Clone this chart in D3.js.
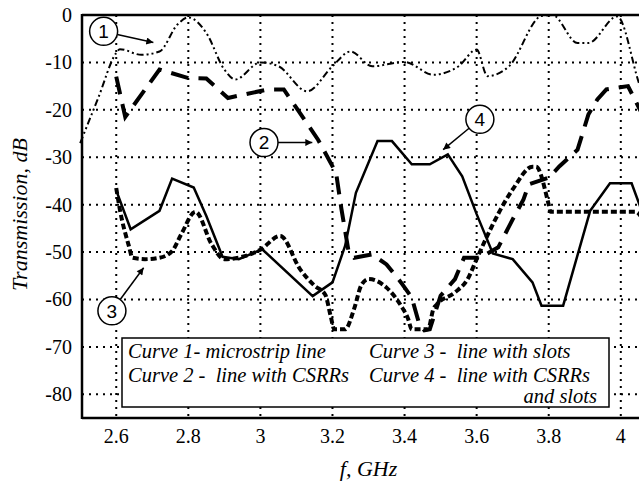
<!DOCTYPE html>
<html>
<head>
<meta charset="utf-8">
<script src="https://cdn.jsdelivr.net/npm/d3@7"></script>
<style>
  body { margin: 0; background: #fff; }
  svg { display: block; }
  text { font-family: "Liberation Serif", "Times New Roman", serif; fill: #000; }
</style>
</head>
<body>
<div id="chart"></div>
<script>
// Tick values
var xTicks = [2.6, 2.8, 3.0, 3.2, 3.4, 3.6, 3.8, 4.0];
var yTicks = [0, -10, -20, -30, -40, -50, -60, -70, -80];

// Curve 1 - microstrip line  [f GHz, dB]
var curve1 = [[2.50,-27],[2.55,-17.5],[2.60,-8],[2.61,-7.2],[2.67,-8.4],[2.72,-7.7],[2.77,-2],
  [2.80,-0.5],[2.85,-3.8],[2.90,-11.5],[2.93,-13.6],[3.00,-10],[3.05,-10.8],[3.13,-16.1],
  [3.20,-10.8],[3.25,-7.7],[3.31,-10.8],[3.40,-9.9],[3.48,-12.6],[3.55,-10.8],[3.60,-7.3],
  [3.63,-12.9],[3.69,-10.8],[3.78,-0.2],[3.81,0],[3.88,-5.9],[3.91,-5.9],[3.99,-0.3],
  [4.05,-14.3],[4.10,-26]];

// Curve 2 - line with CSRRs
var curve2 = [[2.60,-13],[2.625,-21.5],[2.72,-11.5],[2.80,-13.3],[2.85,-13.4],[2.91,-17.5],
  [3.02,-15.7],[3.065,-15.7],[3.10,-19.6],[3.16,-26.3],[3.21,-33.3],[3.225,-41],[3.245,-50],
  [3.26,-51.2],[3.31,-50.5],[3.35,-52.6],[3.39,-56.4],[3.42,-59.6],[3.44,-65],[3.455,-66.5],
  [3.47,-66.3],[3.50,-59.2],[3.54,-55.7],[3.565,-51.2],[3.61,-51.2],[3.66,-49],[3.70,-43.1],
  [3.73,-38.9],[3.745,-35.7],[3.80,-34.3],[3.83,-31.9],[3.88,-28.4],[3.91,-21],[3.935,-17.8],
  [3.96,-15.7],[4.02,-15],[4.10,-27]];

// Curve 3 - line with slots
var curve3 = [[2.60,-36.5],[2.61,-41],[2.635,-48.7],[2.645,-51.2],[2.68,-51.5],[2.72,-51.2],
  [2.755,-49.8],[2.78,-46.3],[2.82,-41.5],[2.865,-48.4],[2.90,-51.5],[2.95,-51],[3.00,-49.5],
  [3.055,-46.6],[3.11,-53.6],[3.15,-57.1],[3.18,-59],[3.195,-63.5],[3.205,-66.3],[3.235,-66.3],
  [3.26,-62],[3.28,-57],[3.30,-55.7],[3.35,-57.5],[3.39,-61.3],[3.41,-64.1],[3.42,-66.3],
  [3.465,-66.3],[3.48,-62],[3.49,-61],[3.54,-58.5],[3.575,-55.7],[3.60,-51.5],[3.625,-47.3],
  [3.70,-36.8],[3.755,-32],[3.765,-32],[3.80,-40],[3.805,-41.5],[4.04,-41.5],[4.10,-52]];

// Curve 4 - line with CSRRs and slots
var curve4 = [[2.60,-37],[2.64,-45.2],[2.72,-41.3],[2.755,-34.5],[2.815,-36.4],[2.85,-42.4],
  [2.895,-51],[2.94,-51.5],[3.005,-49.4],[3.145,-59.3],[3.20,-56.4],[3.235,-48.7],[3.265,-37.5],
  [3.325,-26.6],[3.365,-26.6],[3.42,-31.5],[3.47,-31.5],[3.52,-29.4],[3.56,-34],[3.60,-42],
  [3.645,-50.3],[3.70,-51.5],[3.755,-56.4],[3.78,-61.3],[3.84,-61.3],[3.915,-41.3],
  [3.97,-35.5],[4.03,-35.5],[4.10,-50]];

// Numbered markers: label, circle centre, arrow tip  (data units)
var markers = [
  {label: '1', at: [2.565, -3.45], tip: [2.703, -5.8]},
  {label: '2', at: [3.01, -26.9], tip: [3.144, -26.9]},
  {label: '3', at: [2.588, -62.4], tip: [2.676, -53.3]},
  {label: '4', at: [3.609, -22.0], tip: [3.507, -28.4]}
];

var legendLeft = ['Curve 1- microstrip line', 'Curve 2 -  line with CSRRs'];
var legendRight = ['Curve 3 -  line with slots', 'Curve 4 -  line with CSRRs', 'and slots'];

var W = 639, H = 481;
var plotLeft = 82, plotTop = 15, plotBottom = 418;

var svg = d3.select('#chart').append('svg')
    .attr('width', W).attr('height', H);

var x = d3.scaleLinear().domain([2.505, 4.1]).range([plotLeft, plotLeft + 1.595 * 360.4]);
var y = d3.scaleLinear().domain([-85, 0]).range([plotBottom, plotTop]);

svg.append('defs').append('marker')
    .attr('id', 'arrow')
    .attr('viewBox', '0 0 10 10')
    .attr('refX', 10).attr('refY', 5)
    .attr('markerWidth', 11).attr('markerHeight', 7)
    .attr('markerUnits', 'userSpaceOnUse')
    .attr('orient', 'auto')
  .append('path')
    .attr('d', 'M0,0 L10,5 L0,10 Z')
    .attr('fill', '#000');

// Dotted grid
var grid = svg.append('g');
grid.selectAll('.vg').data(xTicks).enter().append('line')
    .attr('x1', function(d) { return x(d); }).attr('x2', function(d) { return x(d); })
    .attr('y1', y(0)).attr('y2', y(-85))
    .attr('stroke', '#000').attr('stroke-width', 2).attr('stroke-dasharray', '2,5');
grid.selectAll('.hg').data(yTicks.slice(1)).enter().append('line')
    .attr('x1', x(2.505)).attr('x2', W)
    .attr('y1', function(d) { return y(d); }).attr('y2', function(d) { return y(d); })
    .attr('stroke', '#000').attr('stroke-width', 2).attr('stroke-dasharray', '2,5');

// Axes frame
svg.append('line').attr('x1', x(2.505)).attr('x2', x(2.505)).attr('y1', y(0) - 1).attr('y2', y(-85) + 1)
    .attr('stroke', '#000').attr('stroke-width', 2.5);
svg.append('line').attr('x1', x(2.505)).attr('x2', W).attr('y1', y(-85)).attr('y2', y(-85))
    .attr('stroke', '#000').attr('stroke-width', 2.5);
svg.append('line').attr('x1', x(2.505)).attr('x2', W).attr('y1', y(0)).attr('y2', y(0))
    .attr('stroke', '#000').attr('stroke-width', 2.5);

// Tick labels
svg.selectAll('.xl').data(xTicks).enter().append('text')
    .attr('x', function(d) { return x(d); })
    .attr('y', plotBottom + 25)
    .attr('text-anchor', 'middle')
    .attr('font-size', 20)
    .text(function(d) { return d3.format('')(+d.toFixed(1)); });

svg.selectAll('.yl').data(yTicks).enter().append('text')
    .attr('x', plotLeft - 10)
    .attr('y', function(d) { return y(d); })
    .attr('dy', '0.35em')
    .attr('text-anchor', 'end')
    .attr('font-size', 20)
    .text(function(d) { return d; });

// Axis titles
svg.append('text')
    .attr('transform', 'translate(27,' + (y(-42.5) - 2) + ') rotate(-90)')
    .attr('text-anchor', 'middle')
    .attr('font-size', 22).attr('font-style', 'italic')
    .text('Transmission, dB');
svg.append('text')
    .attr('x', x(3.3)).attr('y', 476)
    .attr('text-anchor', 'middle')
    .attr('font-size', 22).attr('font-style', 'italic')
    .text('f, GHz');

// Curves
var line = d3.line().x(function(d) { return x(d[0]); }).y(function(d) { return y(d[1]); });
var smooth = d3.line().curve(d3.curveMonotoneX)
    .x(function(d) { return x(d[0]); }).y(function(d) { return y(d[1]); });

var curves = svg.append('g');
curves.append('path').attr('d', smooth(curve1)).attr('fill', 'none')
    .attr('stroke', '#000').attr('stroke-width', 2).attr('stroke-dasharray', '7,3,2,3,2,3');
curves.append('path').attr('d', line(curve2)).attr('fill', 'none')
    .attr('stroke', '#000').attr('stroke-width', 4).attr('stroke-dasharray', '18,10');
curves.append('path').attr('d', smooth(curve3)).attr('fill', 'none')
    .attr('stroke', '#000').attr('stroke-width', 4).attr('stroke-dasharray', '6,3');
curves.append('path').attr('d', line(curve4)).attr('fill', 'none')
    .attr('stroke', '#000').attr('stroke-width', 2.5).attr('stroke-linejoin', 'miter');

// Numbered markers with arrows
var r = 14;
var mk = svg.append('g').selectAll('g').data(markers).enter().append('g');
mk.append('line')
    .each(function(d) {
      var cx = x(d.at[0]), cy = y(d.at[1]), tx = x(d.tip[0]), ty = y(d.tip[1]);
      var len = Math.hypot(tx - cx, ty - cy);
      d3.select(this)
        .attr('x1', cx + (tx - cx) / len * r).attr('y1', cy + (ty - cy) / len * r)
        .attr('x2', tx).attr('y2', ty);
    })
    .attr('stroke', '#000').attr('stroke-width', 1.5)
    .attr('marker-end', 'url(#arrow)');
mk.append('circle')
    .attr('cx', function(d) { return x(d.at[0]); })
    .attr('cy', function(d) { return y(d.at[1]); })
    .attr('r', r)
    .attr('fill', '#fff').attr('stroke', '#000').attr('stroke-width', 1.5);
mk.append('text')
    .attr('x', function(d) { return x(d.at[0]); })
    .attr('y', function(d) { return y(d.at[1]); })
    .attr('dy', '0.36em')
    .attr('text-anchor', 'middle')
    .style('font-family', '"Liberation Sans", Arial, sans-serif')
    .attr('font-size', 19)
    .text(function(d) { return d.label; });

// Legend box
var lg = svg.append('g');
lg.append('rect')
    .attr('x', 122).attr('y', 338).attr('width', 487).attr('height', 69)
    .attr('fill', '#fff').attr('stroke', '#000').attr('stroke-width', 1.5);
lg.selectAll('.ll').data(legendLeft).enter().append('text')
    .attr('x', 128).attr('y', function(d, i) { return 358 + i * 24; })
    .attr('font-size', 20.5).attr('font-style', 'italic')
    .style('white-space', 'pre')
    .text(function(d) { return d; });
lg.selectAll('.lr').data(legendRight).enter().append('text')
    .attr('x', function(d, i) { return i < 2 ? 369 : 597; })
    .attr('y', function(d, i) { return i < 2 ? 358 + i * 24 : 403; })
    .attr('text-anchor', function(d, i) { return i < 2 ? 'start' : 'end'; })
    .attr('font-size', 20.5).attr('font-style', 'italic')
    .style('white-space', 'pre')
    .text(function(d) { return d; });
</script>
</body>
</html>
